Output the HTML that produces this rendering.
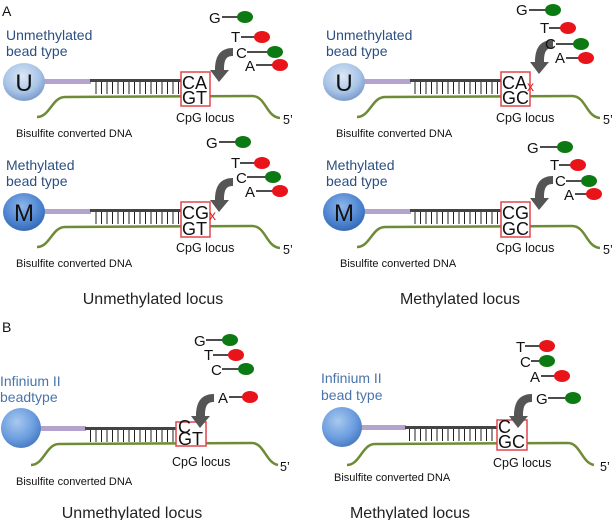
<!DOCTYPE html>
<html><head><meta charset="utf-8"><style>
html,body{margin:0;padding:0;background:#fff}
svg{display:block}
text{font-family:"Liberation Sans",sans-serif}
</style></head><body>
<svg width="616" height="520" viewBox="0 0 616 520" xmlns="http://www.w3.org/2000/svg">
<defs>
<radialGradient id="bu" cx="0.45" cy="0.35" r="0.7"><stop offset="0" stop-color="#dbe8f6"/><stop offset="0.6" stop-color="#a9c4e6"/><stop offset="1" stop-color="#6f93c6"/></radialGradient>
<radialGradient id="bm" cx="0.45" cy="0.35" r="0.7"><stop offset="0" stop-color="#8fb6ea"/><stop offset="0.6" stop-color="#4f86d2"/><stop offset="1" stop-color="#2f63b0"/></radialGradient>
<radialGradient id="bb" cx="0.4" cy="0.35" r="0.7"><stop offset="0" stop-color="#a8c8ee"/><stop offset="0.6" stop-color="#6d9fe0"/><stop offset="1" stop-color="#4677c0"/></radialGradient>
<pattern id="tk" x="0" y="0" width="5.5" height="20" patternUnits="userSpaceOnUse"><rect x="2" y="0" width="1" height="20" fill="#222"/></pattern>
</defs>
<g fill="none" stroke="#6e8c36" stroke-width="2.5">
<path d="M37,117 C50,117 52,97 65,97 L252,96 C266,96 266,117 280,118"/>
<path d="M357,117 C370,117 372,97 385,97 L572,96 C586,96 586,117 600,118"/>
<path d="M37,247 C50,247 52,227 65,227 L252,226 C266,226 266,247 280,248"/>
<path d="M357,247 C370,247 372,227 385,227 L572,226 C586,226 586,247 600,248"/>
<path d="M31,465 C44,465 46,444 59,444 L252,443 C264,443 266,463 278,465"/>
<path d="M347,465 C360,465 362,444 375,444 L568,443 C580,443 582,463 594,465"/>
</g>
<g fill="#b4a3cc">
<rect x="44" y="79" width="47" height="5"/><rect x="364" y="79" width="47" height="5"/>
<rect x="44" y="209" width="47" height="5"/><rect x="364" y="209" width="47" height="5"/>
<rect x="38" y="426" width="48" height="5"/><rect x="358" y="425" width="48" height="5"/>
</g>
<g fill="#444">
<rect x="90" y="79" width="92" height="3"/><rect x="410" y="79" width="92" height="3"/>
<rect x="90" y="209" width="92" height="3"/><rect x="410" y="209" width="92" height="3"/>
<rect x="85" y="427" width="92" height="3"/><rect x="405" y="426" width="92" height="3"/>
</g>
<g fill="url(#tk)">
<rect x="94" y="82" width="86" height="12"/><rect x="414" y="82" width="86" height="12"/>
<rect x="94" y="212" width="86" height="12"/><rect x="414" y="212" width="86" height="12"/>
<rect x="89" y="430" width="86" height="12"/><rect x="409" y="429" width="86" height="12"/>
</g>
<ellipse cx="24" cy="82" rx="21" ry="19" fill="url(#bu)"/>
<ellipse cx="344" cy="82" rx="21" ry="19" fill="url(#bu)"/>
<ellipse cx="24" cy="212" rx="21" ry="19" fill="url(#bm)"/>
<ellipse cx="344" cy="212" rx="21" ry="19" fill="url(#bm)"/>
<circle cx="21" cy="428" r="20" fill="url(#bb)"/>
<circle cx="342" cy="427" r="20" fill="url(#bb)"/>
<g font-size="24" fill="#111" text-anchor="middle">
<text x="24" y="91">U</text><text x="344" y="91">U</text>
<text x="24" y="221">M</text><text x="344" y="221">M</text>
</g>
<g fill="#fff" stroke="#e0474c" stroke-width="1.5">
<rect x="181" y="72" width="29" height="34"/><rect x="501" y="72" width="29" height="34"/>
<rect x="181" y="202" width="29" height="35"/><rect x="501" y="202" width="29" height="35"/>
<rect x="176" y="422" width="30" height="24"/><rect x="497" y="420" width="30" height="30"/>
</g>
<g font-size="18" fill="#111">
<text x="182" y="89">CA</text><text x="182" y="104">GT</text>
<text x="502" y="89">CA</text><text x="502" y="104">GC</text>
<text x="182" y="219">CG</text><text x="182" y="235">GT</text>
<text x="502" y="219">CG</text><text x="502" y="235">GC</text>
<text x="178" y="433">C</text><text x="178" y="445">GT</text>
<text x="498" y="433">C</text><text x="498" y="448">GC</text>
</g>
<g font-size="14" fill="#e02020"><text x="527" y="91">x</text><text x="209" y="220">x</text></g>
<g font-size="12.5" fill="#111">
<text x="176" y="122">CpG locus</text><text x="496" y="122">CpG locus</text>
<text x="176" y="252">CpG locus</text><text x="496" y="252">CpG locus</text>
<text x="172" y="466">CpG locus</text><text x="493" y="467">CpG locus</text>
<text x="283" y="124">5’</text><text x="603" y="124">5’</text>
<text x="283" y="254">5’</text><text x="603" y="254">5’</text>
<text x="280" y="471">5’</text><text x="600" y="471">5’</text>
</g>
<g font-size="11" fill="#111">
<text x="16" y="137">Bisulfite converted DNA</text><text x="336" y="137">Bisulfite converted DNA</text>
<text x="16" y="267">Bisulfite converted DNA</text><text x="340" y="267">Bisulfite converted DNA</text>
<text x="16" y="485">Bisulfite converted DNA</text><text x="334" y="481">Bisulfite converted DNA</text>
</g>
<g font-size="14" fill="#2d4f80">
<text x="6" y="40">Unmethylated</text><text x="6" y="56">bead type</text>
<text x="326" y="40">Unmethylated</text><text x="326" y="56">bead type</text>
<text x="6" y="170">Methylated</text><text x="6" y="186">bead type</text>
<text x="326" y="170">Methylated</text><text x="326" y="186">bead type</text>
</g>
<g font-size="14" fill="#4a74aa">
<text x="0" y="386">Infinium II</text><text x="0" y="402">beadtype</text>
<text x="321" y="383">Infinium II</text><text x="321" y="400">bead type</text>
</g>
<g font-size="14" fill="#111"><text x="2" y="16">A</text><text x="2" y="332">B</text></g>
<g font-size="16" fill="#222" text-anchor="middle">
<text x="153" y="304">Unmethylated locus</text><text x="460" y="304">Methylated locus</text>
<text x="132" y="518">Unmethylated locus</text><text x="410" y="518">Methylated locus</text>
</g>
<g fill="#555">
<path d="M233,48 L233,56 C226,56 224,60 224,70 L229,70 L219,82 L210,70 L215,70 C215,54 222,48 233,48 Z"/>
<path d="M553,40 L553,48 C546,48 544,52 544,62 L549,62 L539,74 L530,62 L535,62 C535,46 542,40 553,40 Z"/>
<path d="M233,178 L233,186 C226,186 224,190 224,200 L229,200 L219,212 L210,200 L215,200 C215,184 222,178 233,178 Z"/>
<path d="M553,176 L553,184 C546,184 544,188 544,198 L549,198 L539,210 L530,198 L535,198 C535,182 542,176 553,176 Z"/>
<path d="M214,394 L214,402 C207,402 205,406 205,416 L210,416 L200,428 L191,416 L196,416 C196,400 203,394 214,394 Z"/>
<path d="M532,394 L532,402 C525,402 523,406 523,416 L528,416 L518,428 L509,416 L514,416 C514,400 521,394 532,394 Z"/>
</g>
<g font-size="15" fill="#111">
<text x="209" y="23">G</text><text x="231" y="42">T</text><text x="236" y="58">C</text><text x="245" y="71">A</text>
<text x="516" y="15">G</text><text x="540" y="33">T</text><text x="545" y="49">C</text><text x="555" y="63">A</text>
<text x="206" y="148">G</text><text x="231" y="168">T</text><text x="236" y="183">C</text><text x="245" y="197">A</text>
<text x="527" y="153">G</text><text x="550" y="170">T</text><text x="555" y="186">C</text><text x="564" y="200">A</text>
<text x="194" y="346">G</text><text x="204" y="360">T</text><text x="211" y="375">C</text><text x="218" y="403">A</text>
<text x="516" y="352">T</text><text x="520" y="367">C</text><text x="530" y="382">A</text><text x="536" y="404">G</text>
</g>
<g stroke="#111" stroke-width="1.5">
<line x1="222" y1="17" x2="240" y2="17"/><line x1="241" y1="37" x2="256" y2="37"/><line x1="247" y1="52" x2="268" y2="52"/><line x1="256" y1="65" x2="274" y2="65"/>
<line x1="529" y1="10" x2="548" y2="10"/><line x1="549" y1="28" x2="562" y2="28"/><line x1="556" y1="44" x2="574" y2="44"/><line x1="566" y1="58" x2="580" y2="58"/>
<line x1="219" y1="142" x2="238" y2="142"/><line x1="240" y1="163" x2="256" y2="163"/><line x1="247" y1="177" x2="266" y2="177"/><line x1="256" y1="191" x2="274" y2="191"/>
<line x1="540" y1="147" x2="558" y2="147"/><line x1="559" y1="165" x2="572" y2="165"/><line x1="566" y1="181" x2="582" y2="181"/><line x1="575" y1="194" x2="588" y2="194"/>
<line x1="206" y1="340" x2="224" y2="340"/><line x1="213" y1="355" x2="230" y2="355"/><line x1="222" y1="369" x2="240" y2="369"/><line x1="229" y1="397" x2="244" y2="397"/>
<line x1="525" y1="346" x2="541" y2="346"/><line x1="531" y1="361" x2="549" y2="361"/><line x1="541" y1="376" x2="556" y2="376"/><line x1="548" y1="398" x2="566" y2="398"/>
</g>
<g fill="#0c7a12">
<ellipse cx="245" cy="17" rx="8" ry="6"/><ellipse cx="275" cy="52" rx="8" ry="6"/>
<ellipse cx="553" cy="10" rx="8" ry="6"/><ellipse cx="581" cy="44" rx="8" ry="6"/>
<ellipse cx="243" cy="142" rx="8" ry="6"/><ellipse cx="273" cy="177" rx="8" ry="6"/>
<ellipse cx="565" cy="147" rx="8" ry="6"/><ellipse cx="589" cy="181" rx="8" ry="6"/>
<ellipse cx="230" cy="340" rx="8" ry="6"/><ellipse cx="246" cy="369" rx="8" ry="6"/>
<ellipse cx="547" cy="361" rx="8" ry="6"/><ellipse cx="573" cy="398" rx="8" ry="6"/>
</g>
<g fill="#e8141a">
<ellipse cx="262" cy="37" rx="8" ry="6"/><ellipse cx="280" cy="65" rx="8" ry="6"/>
<ellipse cx="568" cy="28" rx="8" ry="6"/><ellipse cx="586" cy="58" rx="8" ry="6"/>
<ellipse cx="262" cy="163" rx="8" ry="6"/><ellipse cx="280" cy="191" rx="8" ry="6"/>
<ellipse cx="578" cy="165" rx="8" ry="6"/><ellipse cx="594" cy="194" rx="8" ry="6"/>
<ellipse cx="236" cy="355" rx="8" ry="6"/><ellipse cx="250" cy="397" rx="8" ry="6"/>
<ellipse cx="547" cy="346" rx="8" ry="6"/><ellipse cx="562" cy="376" rx="8" ry="6"/>
</g>
</svg>
</body></html>
